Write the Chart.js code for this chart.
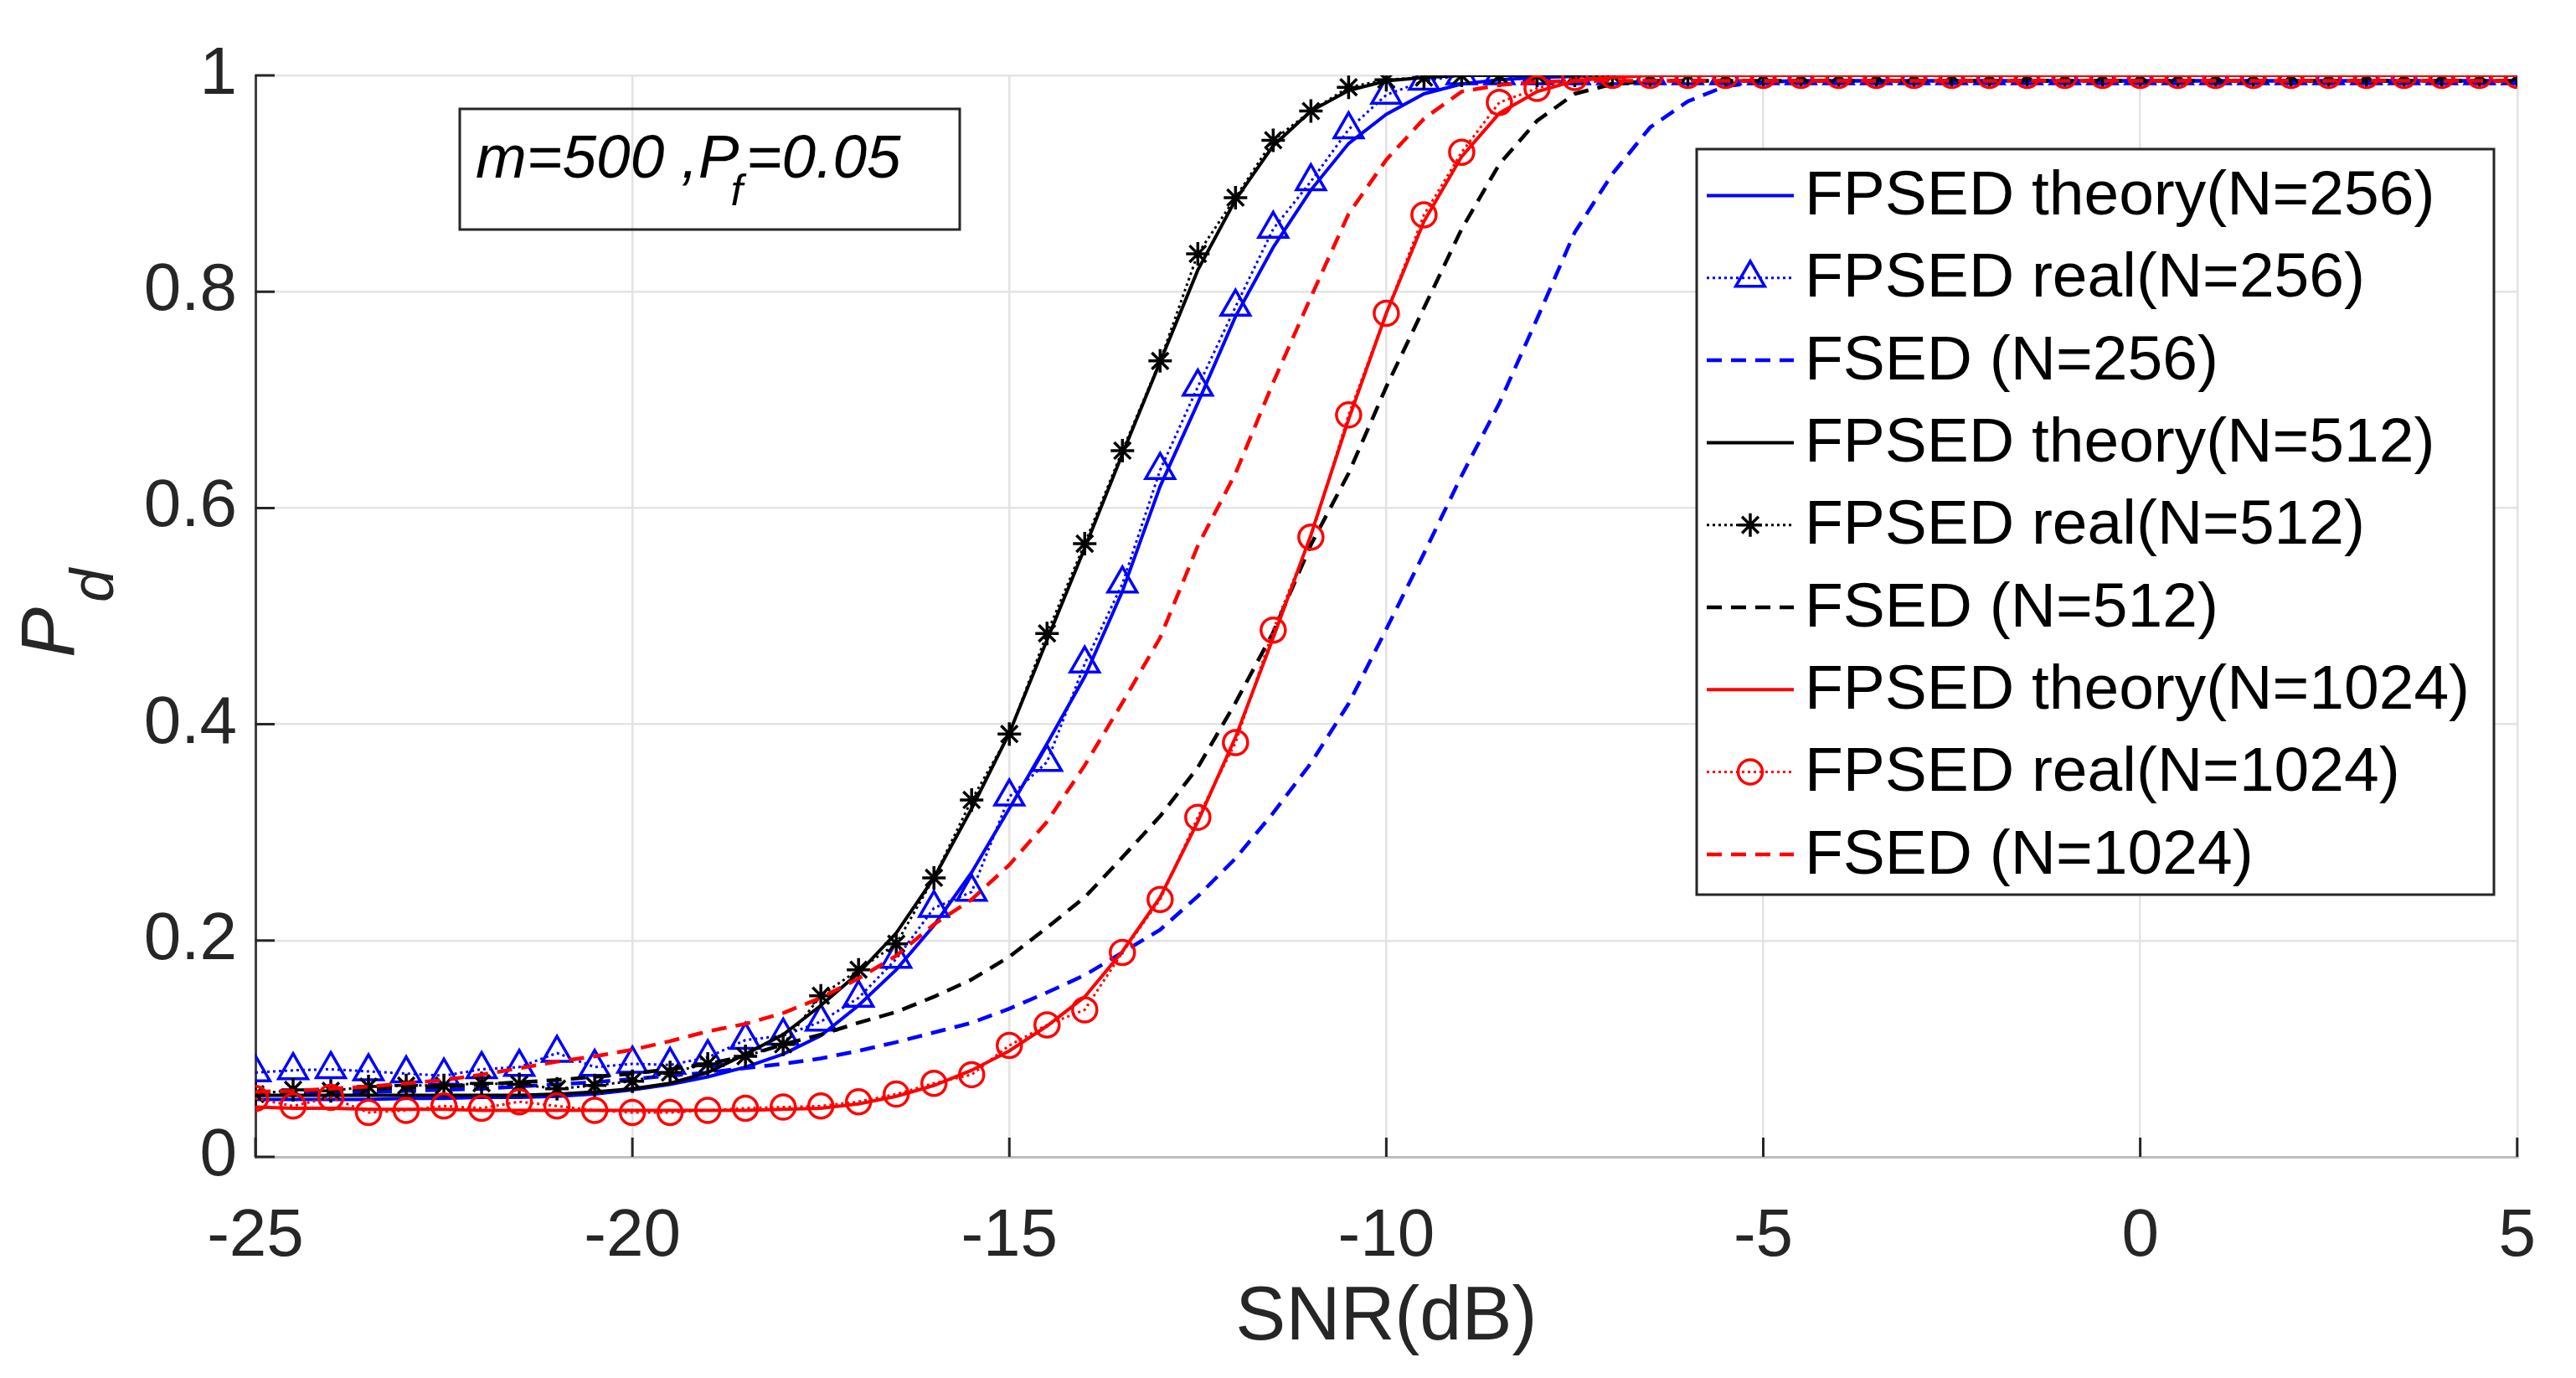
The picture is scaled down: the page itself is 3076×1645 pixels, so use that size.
<!DOCTYPE html>
<html><head><meta charset="utf-8">
<script src="https://cdn.jsdelivr.net/npm/chart.js@4.4.1/dist/chart.umd.min.js"></script>
<style>html,body{margin:0;padding:0;background:#fff;}canvas{display:block;}</style>
</head><body>
<canvas id="c" width="3076" height="1645"></canvas>
<script>
// ---------------- DATA ----------------
const snr = [-25,-24.5,-24,-23.5,-23,-22.5,-22,-21.5,-21,-20.5,-20,-19.5,-19,-18.5,-18,-17.5,-17,-16.5,-16,-15.5,
  -15,-14.5,-14,-13.5,-13,-12.5,-12,-11.5,-11,-10.5,-10,-9.5,-9,-8.5,-8,-7.5,-7,-6.5,-6,-5.5,
  -5,-4.5,-4,-3.5,-3,-2.5,-2,-1.5,-1,-0.5,0,0.5,1,1.5,2,2.5,3,3.5,4,4.5,5];

const theory256 = [0.053,0.053,0.053,0.053,0.054,0.054,0.055,0.055,0.056,0.058,0.062,0.067,0.074,0.083,0.095,0.112,0.140,0.173,0.214,0.263,
  0.322,0.382,0.444,0.523,0.620,0.697,0.777,0.841,0.894,0.937,0.964,0.983,0.992,0.996,0.998,0.999,1,1,1,1,
  1,1,1,1,1,1,1,1,1,1,1,1,1,1,1,1,1,1,1,1,1];
const real256 = [0.078,0.080,0.081,0.079,0.077,0.075,0.081,0.083,0.096,0.083,0.086,0.085,0.092,0.108,0.112,0.125,0.147,0.183,0.230,0.245,
  0.333,0.365,0.456,0.530,0.635,0.712,0.786,0.858,0.902,0.950,0.982,0.995,1,1,1,1,1,1,1,1,
  1,1,1,1,1,1,1,1,1,1,1,1,1,1,1,1,1,1,1,1,1];
const fsed256 = [0.057,0.058,0.059,0.060,0.061,0.062,0.063,0.065,0.067,0.069,0.072,0.075,0.078,0.082,0.086,0.091,0.098,0.106,0.115,0.124,
  0.137,0.152,0.168,0.189,0.210,0.241,0.276,0.318,0.364,0.419,0.488,0.558,0.630,0.697,0.775,0.855,0.909,0.952,0.976,0.990,
  0.994,0.995,0.995,0.995,0.995,0.995,0.995,0.995,0.995,0.995,0.995,0.995,0.995,0.995,0.995,0.995,0.995,0.995,0.995,0.995,0.995];
const theory512 = [0.057,0.057,0.057,0.057,0.057,0.057,0.057,0.057,0.058,0.060,0.063,0.068,0.078,0.095,0.113,0.140,0.170,0.207,0.258,0.322,
  0.392,0.478,0.563,0.650,0.735,0.820,0.885,0.935,0.967,0.986,0.995,0.998,1,1,1,1,1,1,1,1,
  1,1,1,1,1,1,1,1,1,1,1,1,1,1,1,1,1,1,1,1,1];
const real512 = [0.058,0.062,0.061,0.065,0.066,0.066,0.068,0.067,0.063,0.066,0.070,0.078,0.086,0.093,0.104,0.149,0.173,0.197,0.258,0.330,
  0.391,0.484,0.567,0.653,0.736,0.835,0.887,0.940,0.967,0.989,0.996,0.998,1,1,1,1,1,1,1,1,
  1,1,1,1,1,1,1,1,1,1,1,1,1,1,1,1,1,1,1,1,1];
const fsed512 = [0.060,0.061,0.062,0.063,0.064,0.065,0.067,0.069,0.071,0.074,0.077,0.081,0.086,0.093,0.104,0.113,0.124,0.134,0.148,0.164,
  0.185,0.212,0.240,0.277,0.315,0.360,0.420,0.485,0.566,0.632,0.712,0.785,0.858,0.918,0.958,0.983,0.992,0.995,0.995,0.995,
  0.995,0.995,0.995,0.995,0.995,0.995,0.995,0.995,0.995,0.995,0.995,0.995,0.995,0.995,0.995,0.995,0.995,0.995,0.995,0.995,0.995];
const theory1024 = [0.046,0.045,0.045,0.044,0.044,0.044,0.043,0.043,0.043,0.043,0.043,0.043,0.043,0.043,0.044,0.045,0.049,0.056,0.066,0.080,
  0.098,0.121,0.148,0.190,0.240,0.310,0.388,0.480,0.575,0.682,0.780,0.865,0.925,0.965,0.985,0.995,0.998,1,1,1,
  1,1,1,1,1,1,1,1,1,1,1,1,1,1,1,1,1,1,1,1,1];
const real1024 = [0.054,0.047,0.055,0.041,0.043,0.047,0.045,0.051,0.047,0.043,0.041,0.041,0.043,0.045,0.046,0.047,0.051,0.058,0.068,0.076,
  0.103,0.122,0.136,0.189,0.238,0.314,0.383,0.487,0.573,0.686,0.780,0.871,0.929,0.975,0.988,0.998,1,1,1,1,
  1,1,1,1,1,1,1,1,1,1,1,1,1,1,1,1,1,1,1,1,1];
const fsed1024 = [0.060,0.061,0.063,0.065,0.068,0.071,0.076,0.082,0.088,0.093,0.099,0.107,0.116,0.123,0.133,0.147,0.165,0.186,0.215,0.238,
  0.270,0.310,0.362,0.420,0.480,0.565,0.632,0.716,0.795,0.872,0.922,0.960,0.985,0.991,0.994,0.995,0.995,0.995,0.995,0.995,
  0.995,0.995,0.995,0.995,0.995,0.995,0.995,0.995,0.995,0.995,0.995,0.995,0.995,0.995,0.995,0.995,0.995,0.995,0.995,0.995,0.995];

const seriesNames = ['FPSED theory(N=256)','FPSED real(N=256)','FSED (N=256)',
  'FPSED theory(N=512)','FPSED real(N=512)','FSED (N=512)',
  'FPSED theory(N=1024)','FPSED real(N=1024)','FSED (N=1024)'];
const xTickValues = [-25,-20,-15,-10,-5,0,5];
const xTickLabels = ['-25','-20','-15','-10','-5','0','5'];
const yTickValues = [0,0.2,0.4,0.6,0.8,1];
const yTickLabels = ['0','0.2','0.4','0.6','0.8','1'];
const xTitle = 'SNR(dB)';
const yTitleMain = 'P', yTitleSub = 'd';
const noteMain = 'm=500 ,P', noteSub = 'f', noteTail = '=0.05';

// ---------------- STYLES ----------------
const FONT = "'Liberation Sans', Arial, sans-serif";
const BLUE = '#0000ff', BLACK = '#000000', RED = '#ff0000';
const pts = arr => snr.map((x, i) => ({x: x, y: arr[i]}));
function theory(label, data, color, order) {
  return {label, data: pts(data), borderColor: color, borderWidth: 4, pointRadius: 0, fill: false, tension: 0, order};
}
function real(label, data, color, style, r, order) {
  return {label, data: pts(data), borderColor: color, borderWidth: 3, borderDash: [3, 4],
    pointStyle: style, pointRadius: r, pointBorderWidth: 3.5, pointBorderColor: color,
    pointBackgroundColor: 'rgba(0,0,0,0)', fill: false, tension: 0, order};
}
function fsed(label, data, color, order) {
  return {label, data: pts(data), borderColor: color, borderWidth: 4.5, borderDash: [18, 11], pointRadius: 0, fill: false, tension: 0, order};
}
const datasets = [
  theory(seriesNames[0], theory256, BLUE, 8),
  real(seriesNames[1], real256, BLUE, 'triangle', 20, 7),
  fsed(seriesNames[2], fsed256, BLUE, 6),
  theory(seriesNames[3], theory512, BLACK, 5),
  real(seriesNames[4], real512, BLACK, 'star', 14, 4),
  fsed(seriesNames[5], fsed512, BLACK, 3),
  theory(seriesNames[6], theory1024, RED, 2),
  real(seriesNames[7], real1024, RED, 'circle', 14.5, 1),
  fsed(seriesNames[8], fsed1024, RED, 0)
];

function lookup(vals, labels, v) {
  for (let i = 0; i < vals.length; i++) if (Math.abs(vals[i] - v) < 1e-6) return labels[i];
  return '';
}

function marker(ctx, style, x, y, r) {
  ctx.beginPath();
  if (style === 'triangle') {
    let a = 0;
    ctx.moveTo(x + Math.sin(a) * r, y - Math.cos(a) * r);
    a += 2 * Math.PI / 3; ctx.lineTo(x + Math.sin(a) * r, y - Math.cos(a) * r);
    a += 2 * Math.PI / 3; ctx.lineTo(x + Math.sin(a) * r, y - Math.cos(a) * r);
    ctx.closePath();
  } else if (style === 'circle') {
    ctx.arc(x, y, r, 0, Math.PI * 2);
  } else if (style === 'star') {
    ctx.moveTo(x - r, y); ctx.lineTo(x + r, y);
    ctx.moveTo(x, y - r); ctx.lineTo(x, y + r);
    const d = r * Math.SQRT1_2;
    ctx.moveTo(x - d, y - d); ctx.lineTo(x + d, y + d);
    ctx.moveTo(x - d, y + d); ctx.lineTo(x + d, y - d);
  }
  ctx.stroke();
}

const inwardTicks = {
  id: 'inwardTicks',
  afterDraw(chart) {
    const {ctx, chartArea: a, scales: {x, y}} = chart;
    ctx.save();
    ctx.strokeStyle = '#262626'; ctx.lineWidth = 3; ctx.setLineDash([]);
    ctx.beginPath();
    x.ticks.forEach(t => { const p = x.getPixelForValue(t.value); ctx.moveTo(p, a.bottom); ctx.lineTo(p, a.bottom - 23); });
    y.ticks.forEach(t => { const p = y.getPixelForValue(t.value); ctx.moveTo(a.left, p); ctx.lineTo(a.left + 23, p); });
    ctx.stroke();
    ctx.restore();
  }
};

const yTitle = {
  id: 'yTitle',
  afterDraw(chart) {
    const ctx = chart.ctx;
    ctx.save();
    ctx.translate(88, 785);
    ctx.rotate(-Math.PI / 2);
    ctx.fillStyle = '#262626';
    ctx.textBaseline = 'alphabetic'; ctx.textAlign = 'left';
    ctx.font = 'italic 90px ' + FONT;
    ctx.fillText(yTitleMain, 0, 0);
    const w = ctx.measureText(yTitleMain).width;
    ctx.font = 'italic 72px ' + FONT;
    ctx.fillText(yTitleSub, w + 6, 47);
    ctx.restore();
  }
};

const note = {
  id: 'note',
  afterDatasetsDraw(chart) {
    const ctx = chart.ctx;
    ctx.save();
    ctx.setLineDash([]);
    ctx.strokeStyle = '#262626'; ctx.lineWidth = 3;
    ctx.strokeRect(549, 130, 597, 144);
    ctx.fillStyle = '#000';
    ctx.textBaseline = 'alphabetic'; ctx.textAlign = 'left';
    ctx.font = 'italic 73px ' + FONT;
    ctx.fillText(noteMain, 568, 212);
    let x = 568 + ctx.measureText(noteMain).width - 10;
    ctx.font = 'italic 52px ' + FONT;
    ctx.fillText(noteSub, x, 245);
    x += ctx.measureText(noteSub).width + 4;
    ctx.font = 'italic 73px ' + FONT;
    ctx.fillText(noteTail, x, 212);
    ctx.restore();
  }
};

const legendBox = {
  id: 'legendBox',
  afterDatasetsDraw(chart) {
    const ctx = chart.ctx;
    const L = 2026, T = 178, R = 2978, B = 1068;
    ctx.save();
    ctx.fillStyle = '#ffffff';
    ctx.fillRect(L, T, R - L, B - T);
    ctx.setLineDash([]);
    ctx.strokeStyle = '#262626'; ctx.lineWidth = 3;
    ctx.strokeRect(L, T, R - L, B - T);
    chart.data.datasets.forEach((ds, i) => {
      const cy = 233.5 + i * 98.3;
      ctx.save();
      ctx.strokeStyle = ds.borderColor; ctx.lineWidth = ds.borderWidth;
      ctx.setLineDash(ds.borderDash || []);
      ctx.beginPath(); ctx.moveTo(2038, cy); ctx.lineTo(2142, cy); ctx.stroke();
      ctx.setLineDash([]);
      if (ds.pointRadius > 0) {
        ctx.lineWidth = ds.pointBorderWidth; ctx.strokeStyle = ds.pointBorderColor;
        marker(ctx, ds.pointStyle, 2090, cy, ds.pointRadius);
      }
      ctx.restore();
      ctx.fillStyle = '#000';
      ctx.font = '75px ' + FONT;
      ctx.textBaseline = 'middle'; ctx.textAlign = 'left';
      ctx.fillText(ds.label, 2155, cy + 2);
    });
    ctx.restore();
  }
};

new Chart(document.getElementById('c'), {
  type: 'line',
  data: {datasets},
  options: {
    responsive: false, animation: false, devicePixelRatio: 1, events: [],
    layout: {padding: {top: 90, right: 68, bottom: 0, left: 0}},
    plugins: {legend: {display: false}, tooltip: {enabled: false}, title: {display: false}},
    scales: {
      x: {
        type: 'linear', min: -25, max: 5,
        ticks: {stepSize: 5, autoSkip: false, maxRotation: 0, padding: 48, color: '#262626',
          font: {family: FONT, size: 80}, callback: v => lookup(xTickValues, xTickLabels, v)},
        grid: {color: '#e3e3e3', lineWidth: 2.5, drawTicks: false},
        border: {display: true, color: '#bdbdbd', width: 3},
        title: {display: true, text: xTitle, color: '#262626', font: {family: FONT, size: 90}, padding: {top: 0, bottom: 17}},
        afterFit: s => { s.height = 264; }
      },
      y: {
        type: 'linear', min: 0, max: 1,
        ticks: {stepSize: 0.2, padding: 22, color: '#262626',
          font: {family: FONT, size: 80}, callback: v => lookup(yTickValues, yTickLabels, v)},
        grid: {color: '#e3e3e3', lineWidth: 2.5, drawTicks: false},
        border: {display: true, color: '#404040', width: 3},
        afterFit: s => { s.width = 305; }
      }
    }
  },
  plugins: [inwardTicks, note, legendBox, yTitle]
});
</script>
</body></html>
